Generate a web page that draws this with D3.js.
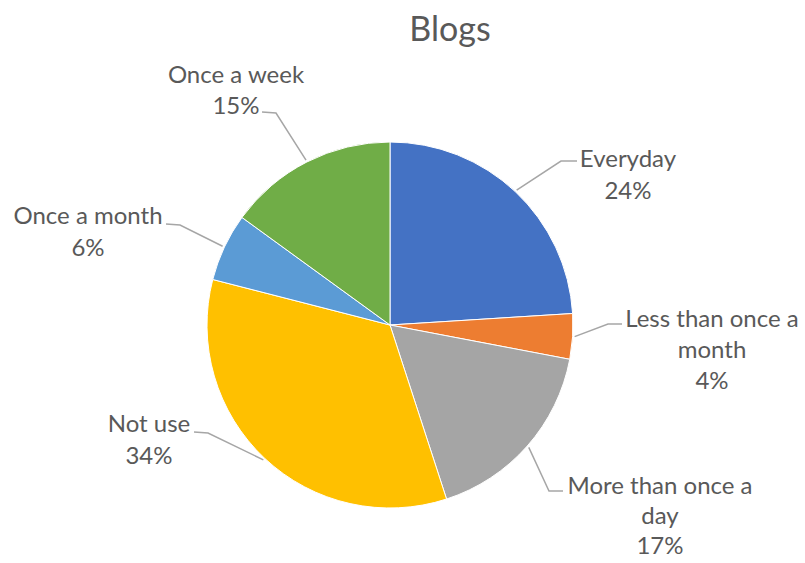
<!DOCTYPE html>
<html>
<head>
<meta charset="utf-8">
<script src="https://cdn.jsdelivr.net/npm/d3@7"></script>
<style>
  html, body { margin: 0; padding: 0; background: #ffffff; }
  svg { display: block; }
</style>
</head>
<body>
<svg id="chart" width="805" height="563"></svg>
<script>
// Survey answers: how often blogs are used (share of respondents, %)
const categories = ["Everyday", "Less than once a month", "More than once a day", "Not use", "Once a month", "Once a week"];
const values = [24, 4, 17, 34, 6, 15];
const percentLabels = ["24%", "4%", "17%", "34%", "6%", "15%"];
// Category names as they wrap inside each data label
const labelLines = [
  ["Everyday"],
  ["Less than once a", "month"],
  ["More than once a", "day"],
  ["Not use"],
  ["Once a month"],
  ["Once a week"]
];
const colors = ["#4472C4", "#ED7D31", "#A5A5A5", "#FFC000", "#5B9BD5", "#70AD47"];

// Label placement: text centre x, first line y, line spacing, and where the leader line meets the label
const labelLayout = [
  { x: 628, y: 161, gap: 32, endX: 577, endY: 161, elbowX: 561 },
  { x: 712, y: 321, gap: 31, endX: 622, endY: 324, elbowX: 608 },
  { x: 660, y: 488, gap: 30, endX: 563, endY: 491, elbowX: 549 },
  { x: 149, y: 426, gap: 32, endX: 194, endY: 432, elbowX: 208 },
  { x: 88,  y: 218, gap: 32, endX: 166, endY: 224, elbowX: 180 },
  { x: 236, y: 77,  gap: 31, endX: 262, endY: 112, elbowX: 276 }
];

const svg = d3.select("#chart");
const cx = 390, cy = 325, radius = 183;
const textColor = "#595959";
const font = "Lato, 'Open Sans', sans-serif";

// Title
svg.append("text")
  .attr("x", 450)
  .attr("y", 41)
  .attr("text-anchor", "middle")
  .attr("font-family", font)
  .attr("font-size", 34)
  .attr("fill", textColor)
  .text("Blogs");

const data = categories.map((c, i) => ({ category: c, value: values[i], i }));

const pie = d3.pie()
  .sort(null)
  .value(d => d.value);

const arc = d3.arc()
  .innerRadius(0)
  .outerRadius(radius);

const arcs = pie(data);

const g = svg.append("g").attr("transform", `translate(${cx},${cy})`);

g.selectAll("path.slice")
  .data(arcs)
  .join("path")
  .attr("class", "slice")
  .attr("d", arc)
  .attr("fill", d => colors[d.data.i])
  .attr("stroke", "#ffffff")
  .attr("stroke-width", 1);

// Leader lines from the slice edge to each label
const edgeArc = d3.arc().innerRadius(radius + 2).outerRadius(radius + 2);
arcs.forEach(d => {
  const L = labelLayout[d.data.i];
  const [px, py] = edgeArc.centroid(d);
  const pts = [
    [px + cx, py + cy],
    [L.elbowX, L.endY + (L.elbowX > L.endX ? 1 : 0)],
    [L.endX, L.endY]
  ];
  svg.append("path")
    .attr("d", d3.line()(pts))
    .attr("fill", "none")
    .attr("stroke", "#A6A6A6")
    .attr("stroke-width", 1.5);
});

// Data labels: category name and percentage
arcs.forEach(d => {
  const i = d.data.i;
  const L = labelLayout[i];
  const lines = labelLines[i].concat([percentLabels[i]]);
  const t = svg.append("text")
    .attr("text-anchor", "middle")
    .attr("font-family", font)
    .attr("font-size", 24)
    .attr("fill", textColor);
  lines.forEach((s, k) => {
    t.append("tspan")
      .attr("x", L.x)
      .attr("y", L.y + k * L.gap)
      .attr("dominant-baseline", "middle")
      .text(s);
  });
});
</script>
</body>
</html>
